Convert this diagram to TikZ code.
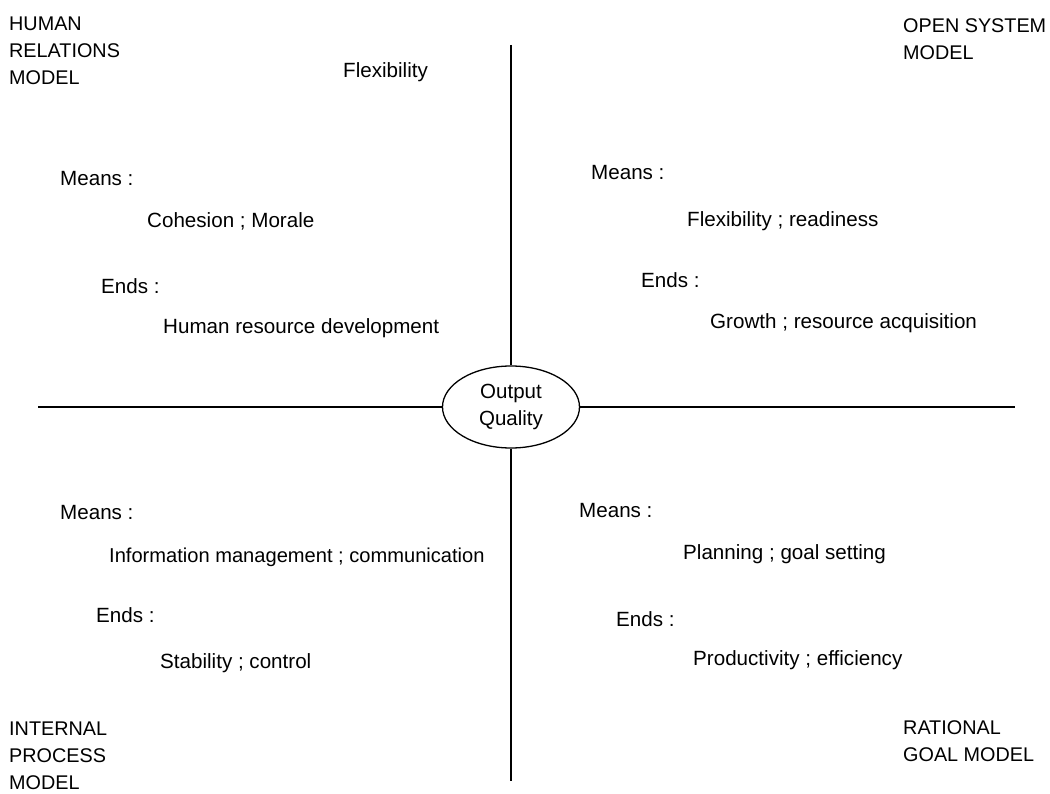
\documentclass[tikz,border=0pt]{standalone}
\usepackage{fontspec}
\setmainfont{Liberation Sans}
\usetikzlibrary{shapes.geometric}
\begin{document}
\begin{tikzpicture}[x=1pt,y=-1pt,
  txt/.style={inner sep=0pt,anchor=base west,font=\fontsize{20.6}{27}\selectfont},
  corner/.style={inner sep=0pt,anchor=north west,align=left,font=\fontsize{19.8}{27}\selectfont},
  axis/.style={line width=1.6pt,black}]
\useasboundingbox (0,0) rectangle (1050,794);
% centre
\node[draw,ellipse,line width=1.3pt,minimum width=137pt,minimum height=82pt,inner sep=0pt,align=center,
  font=\fontsize{20.5}{27}\selectfont] (oq) at (511,407) {Output\\Quality};
\coordinate (top) at (511,45);
\coordinate (bot) at (511,781);
\coordinate (lft) at (38,407);
\coordinate (rgt) at (1015,407);
\draw[axis] (top) -- (oq.north);
\draw[axis] (oq.south) -- (bot);
\draw[axis] (lft) -- (oq.west);
\draw[axis] (oq.east) -- (rgt);
% corners
\node[corner] (hrm) at (9,17) {HUMAN\\RELATIONS\\MODEL};
\node[corner] (osm) at (903,18) {OPEN SYSTEM\\MODEL};
\node[corner] (ipm) at (9,722) {INTERNAL\\PROCESS\\MODEL};
\node[corner] (rgm) at (903,720) {RATIONAL\\GOAL MODEL};
\node[txt] (flex) at (343,78) {Flexibility};
% top left
\node[txt] (m1) at (60,186) {Means :};
\node[txt] (m1t) at (147,228) {Cohesion ; Morale};
\node[txt] (e1) at (101,294) {Ends :};
\node[txt] (e1t) at (163,334) {Human resource development};
% top right
\node[txt] (m2) at (591,180) {Means :};
\node[txt] (m2t) at (687,227) {Flexibility ; readiness};
\node[txt] (e2) at (641,288) {Ends :};
\node[txt] (e2t) at (710,329) {Growth ; resource acquisition};
% bottom left
\node[txt] (m3) at (60,519) {Means :};
\node[txt,font=\fontsize{20.1}{27}\selectfont] (m3t) at (109,562) {Information management ; communication};
\node[txt] (e3) at (96,622) {Ends :};
\node[txt] (e3t) at (160,668) {Stability ; control};
% bottom right
\node[txt] (m4) at (579,517) {Means :};
\node[txt] (m4t) at (683,559) {Planning ; goal setting};
\node[txt] (e4) at (616,626) {Ends :};
\node[txt] (e4t) at (693,665) {Productivity ; efficiency};
\end{tikzpicture}
\end{document}
